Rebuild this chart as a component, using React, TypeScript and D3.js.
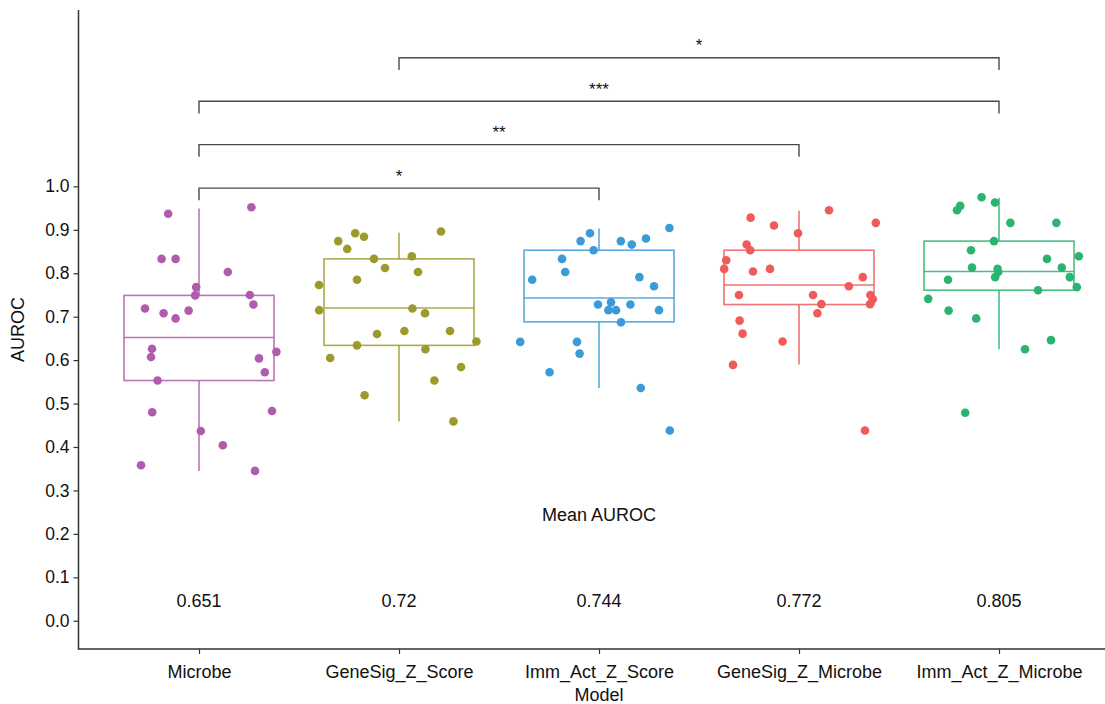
import React, { useEffect, useRef } from "react";
import * as d3 from "d3";

// Models on the x axis and their colours
const models = ["Microbe", "GeneSig_Z_Score", "Imm_Act_Z_Score", "GeneSig_Z_Microbe", "Imm_Act_Z_Microbe"];
const colors = ["#B05CAC", "#9C9A2C", "#3B9BD9", "#EF5B5B", "#2AB46F"];

// AUROC of each run, per model, and the jitter offset (in category units) of each point
const microbeAuroc = [0.937, 0.952, 0.833, 0.833, 0.803, 0.768, 0.749, 0.750, 0.728, 0.719, 0.708, 0.714, 0.696, 0.626, 0.607, 0.619, 0.604, 0.572, 0.553, 0.480, 0.483, 0.437, 0.404, 0.358, 0.345];
const microbeJitter = [-0.154, 0.262, -0.187, -0.117, 0.144, -0.014, -0.019, 0.254, 0.272, -0.27, -0.177, -0.052, -0.117, -0.235, -0.24, 0.387, 0.30, 0.329, -0.207, -0.234, 0.365, 0.009, 0.119, -0.29, 0.28];

const geneSigScoreAuroc = [0.892, 0.884, 0.874, 0.856, 0.896, 0.833, 0.839, 0.812, 0.803, 0.773, 0.785, 0.715, 0.719, 0.708, 0.660, 0.667, 0.667, 0.643, 0.634, 0.625, 0.605, 0.584, 0.553, 0.519, 0.459];
const geneSigScoreJitter = [-0.219, -0.175, -0.304, -0.259, 0.21, -0.125, 0.064, -0.07, 0.095, -0.40, -0.21, -0.399, 0.067, 0.13, -0.11, 0.027, 0.255, 0.387, -0.21, 0.132, -0.344, 0.31, 0.177, -0.172, 0.272];

const immActScoreAuroc = [0.892, 0.874, 0.904, 0.874, 0.866, 0.880, 0.853, 0.833, 0.803, 0.785, 0.791, 0.770, 0.728, 0.733, 0.728, 0.715, 0.715, 0.715, 0.687, 0.642, 0.642, 0.615, 0.572, 0.536, 0.438];
const immActScoreJitter = [-0.045, -0.092, 0.352, 0.109, 0.164, 0.235, -0.027, -0.185, -0.169, -0.334, 0.202, 0.275, -0.005, 0.06, 0.157, 0.047, 0.085, 0.30, 0.11, -0.394, -0.11, -0.097, -0.247, 0.209, 0.354];

const geneSigMicrobeAuroc = [0.928, 0.910, 0.945, 0.916, 0.892, 0.866, 0.853, 0.830, 0.810, 0.804, 0.810, 0.791, 0.770, 0.750, 0.750, 0.750, 0.740, 0.729, 0.729, 0.708, 0.691, 0.661, 0.643, 0.589, 0.438];
const geneSigMicrobeJitter = [-0.242, -0.125, 0.15, 0.384, -0.005, -0.262, -0.244, -0.364, -0.374, -0.23, -0.145, 0.319, 0.249, -0.30, 0.07, 0.357, 0.369, 0.355, 0.112, 0.092, -0.297, -0.282, -0.082, -0.33, 0.33];

const immActMicrobeAuroc = [0.975, 0.955, 0.945, 0.963, 0.916, 0.916, 0.874, 0.853, 0.833, 0.839, 0.813, 0.810, 0.803, 0.791, 0.813, 0.791, 0.785, 0.768, 0.761, 0.741, 0.714, 0.696, 0.646, 0.625, 0.479];
const immActMicrobeJitter = [-0.087, -0.194, -0.21, -0.02, 0.057, 0.287, -0.025, -0.14, 0.24, 0.399, -0.135, -0.007, -0.004, -0.019, 0.314, 0.354, -0.255, 0.389, 0.195, -0.354, -0.252, -0.114, 0.26, 0.13, -0.169];

const aurocByModel = [microbeAuroc, geneSigScoreAuroc, immActScoreAuroc, geneSigMicrobeAuroc, immActMicrobeAuroc];
const jitterByModel = [microbeJitter, geneSigScoreJitter, immActScoreJitter, geneSigMicrobeJitter, immActMicrobeJitter];

// Box statistics as drawn (whisker low, Q1, median, Q3, whisker high)
const whiskerLow = [0.345, 0.459, 0.536, 0.590, 0.625];
const q1 = [0.553, 0.634, 0.688, 0.728, 0.761];
const medians = [0.652, 0.720, 0.743, 0.773, 0.804];
const q3 = [0.749, 0.833, 0.853, 0.853, 0.874];
const whiskerHigh = [0.949, 0.893, 0.903, 0.944, 0.974];

// Mean AUROC labels printed under each box
const meanLabels = ["0.651", "0.72", "0.744", "0.772", "0.805"];

// Significance brackets: [from model, to model, bracket height, label]
const comparisons = [
  { from: "Microbe", to: "Imm_Act_Z_Score", y: 0.996, label: "*" },
  { from: "Microbe", to: "GeneSig_Z_Microbe", y: 1.096, label: "**" },
  { from: "Microbe", to: "Imm_Act_Z_Microbe", y: 1.196, label: "***" },
  { from: "GeneSig_Z_Score", to: "Imm_Act_Z_Microbe", y: 1.296, label: "*" },
];

const yTicks = [0, 0.1, 0.2, 0.3, 0.4, 0.5, 0.6, 0.7, 0.8, 0.9, 1.0];

export default function App() {
  const svgRef = useRef(null);

  useEffect(() => {
    document.body.style.margin = "0";
    const width = 1105;
    const height = 704;
    const left = 78.5;
    const top = 10;
    const bottom = 649;
    const font = "'Liberation Sans', Arial, Helvetica, sans-serif";

    const svg = d3.select(svgRef.current)
      .attr("width", width)
      .attr("height", height)
      .style("display", "block")
      .style("font-family", font);
    svg.selectAll("*").remove();

    const x = d3.scalePoint().domain(models).range([199, 999]);
    const step = 200;
    const y = d3.scaleLinear().domain([-0.065, 1.406]).range([bottom, top]);

    // Boxes
    const boxW = 0.75 * step;
    const gBox = svg.append("g").attr("fill", "none").attr("stroke-width", 1.6);
    models.forEach((m, i) => {
      const cx = x(m);
      const g = gBox.append("g").attr("stroke", colors[i]).attr("stroke-opacity", 0.85);
      g.append("line").attr("x1", cx).attr("x2", cx).attr("y1", y(q3[i])).attr("y2", y(whiskerHigh[i]));
      g.append("line").attr("x1", cx).attr("x2", cx).attr("y1", y(q1[i])).attr("y2", y(whiskerLow[i]));
      g.append("rect")
        .attr("x", cx - boxW / 2)
        .attr("y", y(q3[i]))
        .attr("width", boxW)
        .attr("height", y(q1[i]) - y(q3[i]));
      g.append("line")
        .attr("x1", cx - boxW / 2).attr("x2", cx + boxW / 2)
        .attr("y1", y(medians[i])).attr("y2", y(medians[i]));
    });

    // Jittered points
    models.forEach((m, i) => {
      svg.append("g")
        .attr("fill", colors[i])
        .selectAll("circle")
        .data(aurocByModel[i])
        .join("circle")
        .attr("cx", (d, j) => x(m) + jitterByModel[i][j] * step)
        .attr("cy", d => y(d))
        .attr("r", 4.3);
    });

    // Significance brackets
    const tip = 0.028;
    const gSig = svg.append("g");
    comparisons.forEach(c => {
      const x1 = x(c.from);
      const x2 = x(c.to);
      gSig.append("path")
        .attr("d", `M${x1},${y(c.y - tip)}V${y(c.y)}H${x2}V${y(c.y - tip)}`)
        .attr("fill", "none")
        .attr("stroke", "#4a4a4a")
        .attr("stroke-width", 1.4);
      gSig.append("text")
        .attr("x", (x1 + x2) / 2)
        .attr("y", y(c.y) - 6.5)
        .attr("text-anchor", "middle")
        .attr("font-size", 17)
        .attr("fill", "#111")
        .text(c.label);
    });

    // Mean labels
    svg.append("text")
      .attr("x", x(models[2]))
      .attr("y", y(0.229))
      .attr("text-anchor", "middle")
      .attr("font-size", 18)
      .attr("fill", "#111")
      .text("Mean AUROC");
    svg.append("g")
      .selectAll("text")
      .data(meanLabels)
      .join("text")
      .attr("x", (d, i) => x(models[i]))
      .attr("y", y(0.031))
      .attr("text-anchor", "middle")
      .attr("font-size", 18)
      .attr("fill", "#111")
      .text(d => d);

    // Axes
    const yAxis = svg.append("g")
      .attr("transform", `translate(${left},0)`)
      .call(d3.axisLeft(y).tickValues(yTicks).tickFormat(d3.format(".1f")).tickSize(5).tickPadding(4));
    const xAxis = svg.append("g")
      .attr("transform", `translate(0,${bottom})`)
      .call(d3.axisBottom(x).tickSize(5).tickPadding(11));
    [yAxis, xAxis].forEach(ax => {
      ax.select(".domain").remove();
      ax.selectAll("line").attr("stroke", "#333").attr("stroke-width", 1.2);
      ax.selectAll("text").attr("font-size", 17.5).attr("fill", "#111").attr("font-family", font);
    });
    xAxis.selectAll("text").attr("font-size", 18);

    svg.append("path")
      .attr("d", `M${left},${top}V${bottom}H${width}`)
      .attr("fill", "none")
      .attr("stroke", "#333")
      .attr("stroke-width", 1.5);

    // Axis titles
    svg.append("text")
      .attr("transform", `translate(24,${(top + bottom) / 2}) rotate(-90)`)
      .attr("text-anchor", "middle")
      .attr("font-size", 18)
      .attr("fill", "#111")
      .text("AUROC");
    svg.append("text")
      .attr("x", 599)
      .attr("y", 701)
      .attr("text-anchor", "middle")
      .attr("font-size", 18)
      .attr("fill", "#111")
      .text("Model");
  }, []);

  return <svg ref={svgRef} />;
}
